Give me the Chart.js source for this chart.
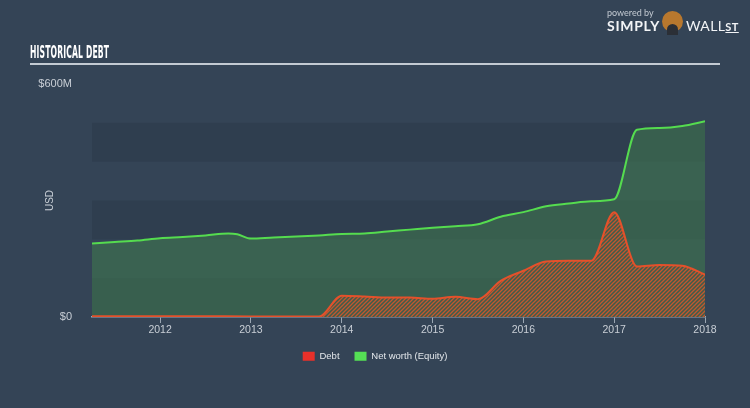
<!DOCTYPE html>
<html>
<head>
<meta charset="utf-8">
<script src="https://cdn.jsdelivr.net/npm/chart.js@4.4.0/dist/chart.umd.min.js"></script>
<style>
    html, body { margin: 0; padding: 0; background: #344456; }
    #wrap { position: relative; width: 750px; height: 408px; overflow: hidden; background: #344456; font-family: Lato, 'Open Sans', sans-serif; }
    #chart { position: absolute; left: 0; top: 0; }
    .title { position: absolute; left: 30px; top: 42px; font: bold 17px 'DejaVu Sans Condensed', 'Liberation Sans', sans-serif; color: #fff; transform: scaleX(0.5); transform-origin: left top; white-space: nowrap; letter-spacing: 0.3px; }
    .rule { position: absolute; left: 30px; top: 63px; width: 690px; height: 2px; background: #c3cad2; }
    .powered { position: absolute; left: 607px; top: 7px; font-size: 9px; color: #c3cad2; }
    .simply { position: absolute; left: 607px; top: 17px; font-size: 14px; font-weight: bold; color: #f2f4f6; letter-spacing: 0.7px; }
    .wall { position: absolute; left: 686px; top: 17px; font-size: 14px; color: #f2f4f6; letter-spacing: 0.4px; }
    .wall u { font-weight: bold; font-size: 11px; }
    .bull { position: absolute; left: 662px; top: 11px; width: 21px; height: 21px; border-radius: 50%; background: #b8782e; }
    .bull::after { content: ''; position: absolute; left: 5px; top: 13px; width: 11px; height: 11px; border-radius: 50% 50% 0 0; background: #2b2f36; }
</style>
</head>
<body>
<div id="wrap">
    <canvas id="chart" width="750" height="408"></canvas>
    <div class="title">HISTORICAL DEBT</div>
    <div class="rule"></div>
    <div class="powered">powered by</div>
    <div class="simply">SIMPLY</div>
    <div class="bull"></div>
    <div class="wall">WALL<u>ST</u></div>
</div>
<script>
'use strict';

/* ───── DATA (USD millions, x in decimal years) ─────────────────────────── */
const equityYears  = [2011.25, 2011.5, 2011.75, 2012.0, 2012.25, 2012.5, 2012.75, 2012.85, 2013.0, 2013.25, 2013.5, 2013.75,
                      2014.0, 2014.25, 2014.5, 2014.75, 2015.0, 2015.25, 2015.5, 2015.75, 2016.0, 2016.25, 2016.5, 2016.75,
                      2017.0, 2017.25, 2017.5, 2017.75, 2018.0];
const equityValues = [189, 193, 197, 203, 206, 210, 215, 213, 202, 205, 207, 210,
                      214, 215, 220, 225, 230, 234, 239, 258, 270, 285, 292, 298,
                      303, 482, 487, 492, 504];

const debtYears  = [2011.25, 2012.0, 2013.0, 2013.75, 2014.0, 2014.25, 2014.5, 2014.75, 2015.0, 2015.25, 2015.5,
                    2015.75, 2016.0, 2016.25, 2016.5, 2016.75, 2017.0, 2017.25, 2017.5, 2017.75, 2018.0];
const debtValues = [2, 2, 1.5, 1, 55, 53, 50, 50, 47, 52, 46,
                    93, 119, 143, 145, 145, 270, 130, 134, 132, 109];

const yearTicks  = [2012, 2013, 2014, 2015, 2016, 2017, 2018];
const valueTicks = [0, 600];
const bandRanges = [[0, 100], [200, 300], [400, 500]];

/* ───── HELPERS ─────────────────────────────────────────────────────────── */
const TEXT = '#c9cfd6';
const AXIS = '#9aa6b2';
const FONT = "'Liberation Sans', Arial, sans-serif";

function toPoints(xs, ys) { return xs.map((x, i) => ({ x, y: ys[i] })); }

function makeHatch(ctx) {
    const p = document.createElement('canvas');
    p.width = 4; p.height = 4;
    const g = p.getContext('2d');
    g.fillStyle = '#3f5c4a';
    g.fillRect(0, 0, 4, 4);
    g.strokeStyle = '#c2572f';
    g.lineWidth = 1.3;
    g.beginPath();
    g.moveTo(0, 4); g.lineTo(4, 0);
    g.moveTo(-1, 1); g.lineTo(1, -1);
    g.moveTo(3, 5); g.lineTo(5, 3);
    g.stroke();
    return ctx.createPattern(p, 'repeat');
}

const bandPlugin = {
    id: 'bands',
    beforeDatasetsDraw(chart) {
        const { ctx, chartArea: { left, right }, scales: { y } } = chart;
        ctx.save();
        ctx.fillStyle = '#2f3e4f';
        bandRanges.forEach(([a, b]) => {
            const top = y.getPixelForValue(b), bot = y.getPixelForValue(a);
            ctx.fillRect(left, top, right - left, bot - top);
        });
        ctx.restore();
    },
};

/* ───── CHART ───────────────────────────────────────────────────────────── */
const canvas = document.getElementById('chart');
const ctx = canvas.getContext('2d');
const legendColors = ['#e8302a', '#55e055'];

new Chart(ctx, {
    type: 'line',
    data: {
        datasets: [
            {
                label: 'Debt',
                data: toPoints(debtYears, debtValues),
                borderColor: '#e4512b',
                backgroundColor: makeHatch(ctx),
                borderWidth: 2,
                pointRadius: 0,
                cubicInterpolationMode: 'monotone',
                fill: 'origin',
            },
            {
                label: 'Net worth (Equity)',
                data: toPoints(equityYears, equityValues),
                borderColor: '#55dc4f',
                backgroundColor: 'rgba(64,118,78,0.6)',
                borderWidth: 2,
                pointRadius: 0,
                cubicInterpolationMode: 'monotone',
                fill: 'origin',
            },
        ],
    },
    options: {
        responsive: false,
        animation: false,
        layout: { padding: { top: 84, right: 0, left: 0, bottom: 37 } },
        plugins: {
            tooltip: { enabled: false },
            legend: {
                position: 'bottom',
                labels: {
                    boxWidth: 12, boxHeight: 9, padding: 15,
                    color: '#e3e7eb',
                    font: { family: FONT, size: 9.5 },
                    generateLabels: chart => chart.data.datasets.map((ds, i) => ({
                        text: ds.label, fillStyle: legendColors[i], strokeStyle: legendColors[i],
                        lineWidth: 0, hidden: false, datasetIndex: i, fontColor: '#e3e7eb',
                    })),
                },
            },
        },
        scales: {
            x: {
                type: 'linear',
                min: 2011.25, max: 2018.0,
                afterBuildTicks: ax => { ax.ticks = yearTicks.map(v => ({ value: v })); },
                afterFit: ax => { ax.height = 19.5; },
                grid: { drawOnChartArea: false, drawTicks: true, tickLength: 6, color: AXIS, lineWidth: 1 },
                border: { display: true, color: AXIS, width: 1.5 },
                ticks: { color: TEXT, padding: 1, maxRotation: 0, font: { family: FONT, size: 10.5 },
                         callback: v => String(v) },
            },
            y: {
                min: 0, max: 600,
                afterBuildTicks: ax => { ax.ticks = valueTicks.map(v => ({ value: v })); },
                afterFit: ax => { ax.width = 92; },
                grid: { display: false },
                border: { display: false },
                title: { display: true, text: 'USD', color: TEXT, font: { family: FONT, size: 10 },
                         padding: { top: 44, bottom: 0 } },
                ticks: { color: TEXT, padding: 12, font: { family: FONT, size: 11 },
                         callback: v => v === 0 ? '$0' : '$' + v + 'M' },
            },
            yRight: {
                position: 'right',
                min: 0, max: 600,
                afterFit: ax => { ax.width = 45; },
                grid: { display: false },
                border: { display: false },
                ticks: { display: false },
            },
        },
    },
    plugins: [bandPlugin],
});
</script>
</body>
</html>
